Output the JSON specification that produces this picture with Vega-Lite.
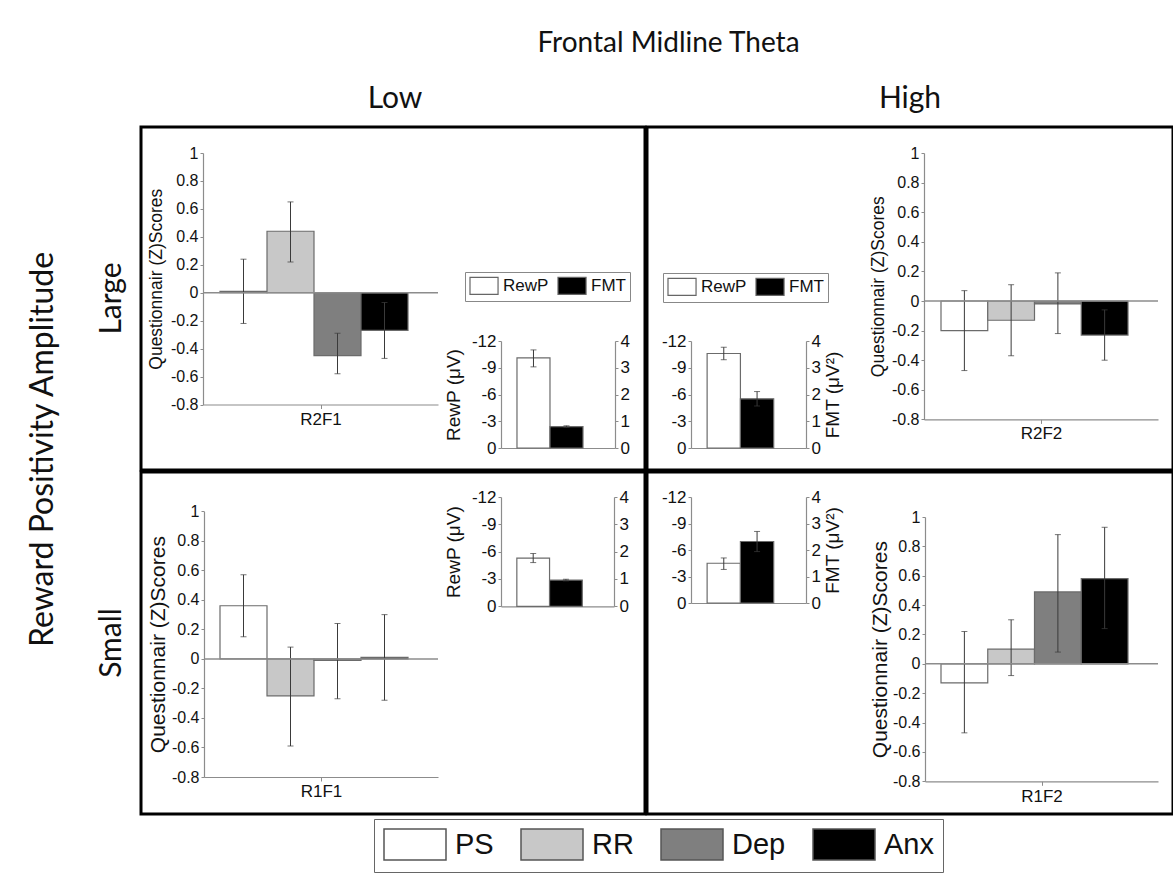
{
  "$schema": "https://vega.github.io/schema/vega-lite/v6.json",
  "padding": {"left": 26, "top": 29, "right": 2, "bottom": 2},
  "config": {
    "font": "Liberation Sans",
    "view": {"stroke": "black", "strokeWidth": 3},
    "axis": {"grid": false, "labelOverlap": false, "domainColor": "#8c8c8c", "tickColor": "#8c8c8c", "labelColor": "#111111", "domainWidth": 1.2, "labelFont": "Liberation Sans", "titleFont": "Liberation Sans", "titleFontWeight": "normal", "titleColor": "#111111"},
    "legend": {"labelFont": "Liberation Sans", "labelColor": "#111111"},
    "title": {"font": "Lato", "fontWeight": "normal", "color": "#111111"},
    "locale": {"number": {"decimal": ".", "thousands": ",", "grouping": [3], "currency": ["$", ""], "minus": "-"}}
  },
  "datasets": {
    "zdata": [
      {"panel": "R2F1", "measure": "PS", "z": 0.01, "lo": -0.22, "hi": 0.24},
      {"panel": "R2F1", "measure": "RR", "z": 0.44, "lo": 0.22, "hi": 0.65},
      {"panel": "R2F1", "measure": "Dep", "z": -0.45, "lo": -0.58, "hi": -0.29},
      {"panel": "R2F1", "measure": "Anx", "z": -0.27, "lo": -0.47, "hi": -0.07},
      {"panel": "R2F2", "measure": "PS", "z": -0.2, "lo": -0.47, "hi": 0.07},
      {"panel": "R2F2", "measure": "RR", "z": -0.13, "lo": -0.37, "hi": 0.11},
      {"panel": "R2F2", "measure": "Dep", "z": -0.02, "lo": -0.22, "hi": 0.19},
      {"panel": "R2F2", "measure": "Anx", "z": -0.23, "lo": -0.4, "hi": -0.06},
      {"panel": "R1F1", "measure": "PS", "z": 0.36, "lo": 0.15, "hi": 0.57},
      {"panel": "R1F1", "measure": "RR", "z": -0.25, "lo": -0.59, "hi": 0.08},
      {"panel": "R1F1", "measure": "Dep", "z": -0.01, "lo": -0.27, "hi": 0.24},
      {"panel": "R1F1", "measure": "Anx", "z": 0.01, "lo": -0.28, "hi": 0.3},
      {"panel": "R1F2", "measure": "PS", "z": -0.13, "lo": -0.47, "hi": 0.22},
      {"panel": "R1F2", "measure": "RR", "z": 0.1, "lo": -0.08, "hi": 0.3},
      {"panel": "R1F2", "measure": "Dep", "z": 0.49, "lo": 0.08, "hi": 0.88},
      {"panel": "R1F2", "measure": "Anx", "z": 0.58, "lo": 0.24, "hi": 0.93}
    ],
    "sdata": [
      {"panel": "R2F1", "var": "RewP", "v": -10.1, "lo": -11.0, "hi": -9.1},
      {"panel": "R2F1", "var": "FMT", "v": 0.8, "lo": 0.77, "hi": 0.83},
      {"panel": "R2F2", "var": "RewP", "v": -10.6, "lo": -11.3, "hi": -9.9},
      {"panel": "R2F2", "var": "FMT", "v": 1.84, "lo": 1.57, "hi": 2.11},
      {"panel": "R1F1", "var": "RewP", "v": -5.3, "lo": -5.8, "hi": -4.8},
      {"panel": "R1F1", "var": "FMT", "v": 0.96, "lo": 0.93, "hi": 0.99},
      {"panel": "R1F2", "var": "RewP", "v": -4.5, "lo": -5.1, "hi": -3.8},
      {"panel": "R1F2", "var": "FMT", "v": 2.32, "lo": 1.94, "hi": 2.7}
    ]
  },
  "title": {"text": "Frontal Midline Theta", "fontSize": 28, "anchor": "middle", "offset": 26, "dx": 68},
  "resolve": {"scale": {"fill": "independent"}},
  "vconcat": [
    {
      "title": {"text": "Reward Positivity Amplitude", "orient": "left", "fontSize": 32, "anchor": "middle", "offset": 36},
      "spacing": -3,
      "resolve": {"scale": {"fill": "independent"}},
      "hconcat": [
        {
          "title": {"text": "Low", "fontSize": 30, "anchor": "middle", "offset": 12, "dx": 24},
          "spacing": -3,
          "resolve": {"scale": {"fill": "independent"}},
          "vconcat": [
            {
              "width": 504, "height": 343,
              "title": {"text": "Large", "orient": "left", "fontSize": 30, "anchor": "middle", "offset": 14},
              "resolve": {"scale": {"x": "independent", "y": "independent"}},
              "layer": [
                {
                  "resolve": {"scale": {"x": "independent"}},
                  "layer": [
                    {
                      "data": {"name": "zdata"},
                      "transform": [{"filter": "datum.panel == 'R2F1'"}],
                      "mark": {"type": "bar", "stroke": "#6b6b6b", "strokeWidth": 1.2},
                      "encoding": {
                        "x": {"field": "measure", "type": "nominal", "sort": null, "scale": {"domain": ["PS", "RR", "Dep", "Anx"], "range": [79, 267], "paddingInner": 0, "paddingOuter": 0}, "axis": null},
                        "y": {"field": "z", "type": "quantitative", "title": "Questionnair (Z)Scores", "scale": {"domain": [-0.8, 1], "range": [277.5, 26], "nice": false}, "axis": {"orient": "left", "offset": -62, "values": [-0.8, -0.6, -0.4, -0.2, 0, 0.2, 0.4, 0.6, 0.8, 1], "tickCount": 20, "format": ".1~f", "labelFontSize": 16, "labelPadding": 2, "tickSize": 3, "titleFontSize": 17.5, "titleAngle": 270, "titleX": -47, "titleBaseline": "middle", "titleAlign": "center"}},
                        "color": {"field": "measure", "type": "nominal", "sort": null, "scale": {"domain": ["PS", "RR", "Dep", "Anx"], "range": ["#ffffff", "#c8c8c8", "#7f7f7f", "#000000"]}, "legend": {"orient": "none", "legendX": 233, "legendY": 692, "direction": "horizontal", "title": null, "symbolType": "M-1,-1H3V1H-1Z", "symbolSize": 961, "symbolStrokeColor": "#555555", "symbolStrokeWidth": 1.5, "labelFontSize": 29, "labelOffset": 39, "columnPadding": 24, "padding": 9, "strokeColor": "#666666", "fillColor": "#ffffff"}}
                      }
                    },
                    {
                      "data": {"name": "zdata"},
                      "transform": [{"filter": "datum.panel == 'R2F1'"}],
                      "mark": {"type": "errorbar", "color": "#3a3a3a", "thickness": 1, "ticks": {"size": 6, "thickness": 1}},
                      "encoding": {
                        "x": {"field": "measure", "type": "nominal", "sort": null, "scale": {"domain": ["PS", "RR", "Dep", "Anx"], "range": [79, 267], "paddingInner": 0, "paddingOuter": 0}, "axis": null},
                        "y": {"field": "lo", "type": "quantitative", "title": "Questionnair (Z)Scores"},
                        "y2": {"field": "hi"}
                      }
                    },
                    {
                      "data": {"values": [{"panel": "R2F1"}]},
                      "mark": {"type": "rule", "color": "#8c8c8c", "strokeWidth": 1.5},
                      "encoding": {
                        "x": {"datum": 0, "type": "quantitative", "scale": {"domain": [0, 1], "range": [62, 297], "nice": false, "zero": false}, "axis": {"orient": "bottom", "offset": -65.5, "values": [0.5], "labels": false, "tickSize": 4, "title": "R2F1", "titleFontSize": 17, "titleY": 15, "titleBaseline": "middle"}},
                        "x2": {"datum": 1},
                        "y": {"datum": 0, "type": "quantitative", "title": "Questionnair (Z)Scores"}
                      }
                    }
                  ]
                },
                {
                  "layer": [
                    {
                      "data": {"name": "sdata"},
                      "transform": [{"filter": "datum.panel == 'R2F1' && datum.var == 'RewP'"}],
                      "mark": {"type": "bar", "stroke": "#6b6b6b", "strokeWidth": 1.2},
                      "encoding": {
                        "x": {"field": "var", "type": "nominal", "sort": null, "scale": {"domain": ["RewP", "FMT"], "range": [360, 474], "paddingInner": 0, "paddingOuter": 0.727, "align": 0.333}, "axis": {"orient": "bottom", "offset": -22, "labels": false, "ticks": false, "title": null}},
                        "y": {"field": "v", "type": "quantitative", "title": "RewP (μV)", "scale": {"domain": [-12, 0], "reverse": true, "range": [321, 214], "nice": false}, "axis": {"orient": "left", "offset": -360, "values": [0, -3, -6, -9, -12], "tickCount": 20, "format": "d", "labelFontSize": 17, "labelPadding": 2, "tickSize": 3, "titleFontSize": 19, "titleAngle": 270, "titleX": -48, "titleBaseline": "middle", "titleAlign": "center"}},
                        "fill": {"field": "var", "type": "nominal", "sort": null, "scale": {"domain": ["RewP", "FMT"], "range": ["#ffffff", "#000000"]}, "legend": {"orient": "none", "legendX": 324, "legendY": 145, "direction": "horizontal", "title": null, "symbolType": "M-1,-1H2.3V1H-1Z", "symbolSize": 289, "symbolStrokeColor": "#666666", "symbolStrokeWidth": 1.2, "labelFontSize": 17, "labelOffset": 15, "columnPadding": 6, "padding": 4, "strokeColor": "#888888", "fillColor": "#ffffff"}}
                      }
                    },
                    {
                      "data": {"name": "sdata"},
                      "transform": [{"filter": "datum.panel == 'R2F1' && datum.var == 'RewP'"}],
                      "mark": {"type": "errorbar", "color": "#3a3a3a", "thickness": 1, "ticks": {"size": 6, "thickness": 1}},
                      "encoding": {
                        "x": {"field": "var", "type": "nominal", "sort": null},
                        "y": {"field": "lo", "type": "quantitative", "title": "RewP (μV)"},
                        "y2": {"field": "hi"}
                      }
                    }
                  ]
                },
                {
                  "layer": [
                    {
                      "data": {"name": "sdata"},
                      "transform": [{"filter": "datum.panel == 'R2F1' && datum.var == 'FMT'"}],
                      "mark": {"type": "bar", "stroke": "#6b6b6b", "strokeWidth": 1.2},
                      "encoding": {
                        "x": {"field": "var", "type": "nominal", "sort": null, "scale": {"domain": ["RewP", "FMT"], "range": [360, 474], "paddingInner": 0, "paddingOuter": 0.727, "align": 0.333}, "axis": null},
                        "y": {"field": "v", "type": "quantitative", "title": null, "scale": {"domain": [0, 4], "range": [321, 214], "nice": false}, "axis": {"orient": "right", "offset": -30, "values": [0, 1, 2, 3, 4], "tickCount": 20, "format": "d", "labelFontSize": 17, "labelPadding": 2, "tickSize": 3, "title": null}},
                        "fill": {"field": "var", "type": "nominal", "sort": null, "scale": {"domain": ["RewP", "FMT"], "range": ["#ffffff", "#000000"]}, "legend": {"orient": "none", "legendX": 324, "legendY": 145, "direction": "horizontal", "title": null, "symbolType": "M-1,-1H2.3V1H-1Z", "symbolSize": 289, "symbolStrokeColor": "#666666", "symbolStrokeWidth": 1.2, "labelFontSize": 17, "labelOffset": 15, "columnPadding": 6, "padding": 4, "strokeColor": "#888888", "fillColor": "#ffffff"}}
                      }
                    },
                    {
                      "data": {"name": "sdata"},
                      "transform": [{"filter": "datum.panel == 'R2F1' && datum.var == 'FMT'"}],
                      "mark": {"type": "errorbar", "color": "#3a3a3a", "thickness": 1, "ticks": {"size": 6, "thickness": 1}},
                      "encoding": {
                        "x": {"field": "var", "type": "nominal", "sort": null},
                        "y": {"field": "lo", "type": "quantitative", "title": null},
                        "y2": {"field": "hi"}
                      }
                    }
                  ]
                }
              ]
            },
            {
              "width": 504, "height": 342,
              "title": {"text": "Small", "orient": "left", "fontSize": 30, "anchor": "middle", "offset": 14},
              "resolve": {"scale": {"x": "independent", "y": "independent"}},
              "layer": [
                {
                  "resolve": {"scale": {"x": "independent"}},
                  "layer": [
                    {
                      "data": {"name": "zdata"},
                      "transform": [{"filter": "datum.panel == 'R1F1'"}],
                      "mark": {"type": "bar", "stroke": "#6b6b6b", "strokeWidth": 1.2},
                      "encoding": {
                        "x": {"field": "measure", "type": "nominal", "sort": null, "scale": {"domain": ["PS", "RR", "Dep", "Anx"], "range": [79, 267], "paddingInner": 0, "paddingOuter": 0}, "axis": null},
                        "y": {"field": "z", "type": "quantitative", "title": "Questionnair (Z)Scores", "scale": {"domain": [-0.8, 1], "range": [305, 39.3], "nice": false}, "axis": {"orient": "left", "offset": -63, "values": [-0.8, -0.6, -0.4, -0.2, 0, 0.2, 0.4, 0.6, 0.8, 1], "tickCount": 20, "format": ".1~f", "labelFontSize": 16, "labelPadding": 2, "tickSize": 3, "titleFontSize": 21, "titleAngle": 270, "titleX": -46, "titleBaseline": "middle", "titleAlign": "center"}},
                        "color": {"field": "measure", "type": "nominal", "sort": null, "scale": {"domain": ["PS", "RR", "Dep", "Anx"], "range": ["#ffffff", "#c8c8c8", "#7f7f7f", "#000000"]}, "legend": {"orient": "none", "legendX": 233, "legendY": 692, "direction": "horizontal", "title": null, "symbolType": "M-1,-1H3V1H-1Z", "symbolSize": 961, "symbolStrokeColor": "#555555", "symbolStrokeWidth": 1.5, "labelFontSize": 29, "labelOffset": 39, "columnPadding": 24, "padding": 9, "strokeColor": "#666666", "fillColor": "#ffffff"}}
                      }
                    },
                    {
                      "data": {"name": "zdata"},
                      "transform": [{"filter": "datum.panel == 'R1F1'"}],
                      "mark": {"type": "errorbar", "color": "#3a3a3a", "thickness": 1, "ticks": {"size": 6, "thickness": 1}},
                      "encoding": {
                        "x": {"field": "measure", "type": "nominal", "sort": null, "scale": {"domain": ["PS", "RR", "Dep", "Anx"], "range": [79, 267], "paddingInner": 0, "paddingOuter": 0}, "axis": null},
                        "y": {"field": "lo", "type": "quantitative", "title": "Questionnair (Z)Scores"},
                        "y2": {"field": "hi"}
                      }
                    },
                    {
                      "data": {"values": [{"panel": "R1F1"}]},
                      "mark": {"type": "rule", "color": "#8c8c8c", "strokeWidth": 1.5},
                      "encoding": {
                        "x": {"datum": 0, "type": "quantitative", "scale": {"domain": [0, 1], "range": [63, 297], "nice": false, "zero": false}, "axis": {"orient": "bottom", "offset": -37, "values": [0.5], "labels": false, "tickSize": 4, "title": "R1F1", "titleFontSize": 17, "titleY": 14, "titleBaseline": "middle"}},
                        "x2": {"datum": 1},
                        "y": {"datum": 0, "type": "quantitative", "title": "Questionnair (Z)Scores"}
                      }
                    }
                  ]
                },
                {
                  "layer": [
                    {
                      "data": {"name": "sdata"},
                      "transform": [{"filter": "datum.panel == 'R1F1' && datum.var == 'RewP'"}],
                      "mark": {"type": "bar", "stroke": "#6b6b6b", "strokeWidth": 1.2},
                      "encoding": {
                        "x": {"field": "var", "type": "nominal", "sort": null, "scale": {"domain": ["RewP", "FMT"], "range": [360, 473], "paddingInner": 0, "paddingOuter": 0.727, "align": 0.333}, "axis": {"orient": "bottom", "offset": -207.7, "labels": false, "ticks": false, "title": null}},
                        "y": {"field": "v", "type": "quantitative", "title": "RewP (μV)", "scale": {"domain": [-12, 0], "reverse": true, "range": [134.3, 25], "nice": false}, "axis": {"orient": "left", "offset": -360, "values": [0, -3, -6, -9, -12], "tickCount": 20, "format": "d", "labelFontSize": 17, "labelPadding": 2, "tickSize": 3, "titleFontSize": 19, "titleAngle": 270, "titleX": -48, "titleBaseline": "middle", "titleAlign": "center"}},
                        "fill": {"field": "var", "type": "nominal", "sort": null, "scale": {"domain": ["RewP", "FMT"], "range": ["#ffffff", "#000000"]}, "legend": null}
                      }
                    },
                    {
                      "data": {"name": "sdata"},
                      "transform": [{"filter": "datum.panel == 'R1F1' && datum.var == 'RewP'"}],
                      "mark": {"type": "errorbar", "color": "#3a3a3a", "thickness": 1, "ticks": {"size": 6, "thickness": 1}},
                      "encoding": {
                        "x": {"field": "var", "type": "nominal", "sort": null},
                        "y": {"field": "lo", "type": "quantitative", "title": "RewP (μV)"},
                        "y2": {"field": "hi"}
                      }
                    }
                  ]
                },
                {
                  "layer": [
                    {
                      "data": {"name": "sdata"},
                      "transform": [{"filter": "datum.panel == 'R1F1' && datum.var == 'FMT'"}],
                      "mark": {"type": "bar", "stroke": "#6b6b6b", "strokeWidth": 1.2},
                      "encoding": {
                        "x": {"field": "var", "type": "nominal", "sort": null, "scale": {"domain": ["RewP", "FMT"], "range": [360, 473], "paddingInner": 0, "paddingOuter": 0.727, "align": 0.333}, "axis": null},
                        "y": {"field": "v", "type": "quantitative", "title": null, "scale": {"domain": [0, 4], "range": [134.3, 25], "nice": false}, "axis": {"orient": "right", "offset": -31, "values": [0, 1, 2, 3, 4], "tickCount": 20, "format": "d", "labelFontSize": 17, "labelPadding": 2, "tickSize": 3, "title": null}},
                        "fill": {"field": "var", "type": "nominal", "sort": null, "scale": {"domain": ["RewP", "FMT"], "range": ["#ffffff", "#000000"]}, "legend": null}
                      }
                    },
                    {
                      "data": {"name": "sdata"},
                      "transform": [{"filter": "datum.panel == 'R1F1' && datum.var == 'FMT'"}],
                      "mark": {"type": "errorbar", "color": "#3a3a3a", "thickness": 1, "ticks": {"size": 6, "thickness": 1}},
                      "encoding": {
                        "x": {"field": "var", "type": "nominal", "sort": null},
                        "y": {"field": "lo", "type": "quantitative", "title": null},
                        "y2": {"field": "hi"}
                      }
                    }
                  ]
                }
              ]
            }
          ]
        },
        {
          "title": {"text": "High", "fontSize": 30, "anchor": "middle", "offset": 12},
          "spacing": -3,
          "resolve": {"scale": {"fill": "independent"}},
          "vconcat": [
            {
              "width": 526, "height": 343,
              "resolve": {"scale": {"x": "independent", "y": "independent"}},
              "layer": [
                {
                  "resolve": {"scale": {"x": "independent"}},
                  "layer": [
                    {
                      "data": {"name": "zdata"},
                      "transform": [{"filter": "datum.panel == 'R2F2'"}],
                      "mark": {"type": "bar", "stroke": "#6b6b6b", "strokeWidth": 1.2},
                      "encoding": {
                        "x": {"field": "measure", "type": "nominal", "sort": null, "scale": {"domain": ["PS", "RR", "Dep", "Anx"], "range": [294, 481], "paddingInner": 0, "paddingOuter": 0}, "axis": null},
                        "y": {"field": "z", "type": "quantitative", "title": "Questionnair (Z)Scores", "scale": {"domain": [-0.8, 1], "range": [292.4, 26], "nice": false}, "axis": {"orient": "left", "offset": -277, "values": [-0.8, -0.6, -0.4, -0.2, 0, 0.2, 0.4, 0.6, 0.8, 1], "tickCount": 20, "format": ".1~f", "labelFontSize": 16, "labelPadding": 2, "tickSize": 3, "titleFontSize": 17.5, "titleAngle": 270, "titleX": -46, "titleBaseline": "middle", "titleAlign": "center"}},
                        "color": {"field": "measure", "type": "nominal", "sort": null, "scale": {"domain": ["PS", "RR", "Dep", "Anx"], "range": ["#ffffff", "#c8c8c8", "#7f7f7f", "#000000"]}, "legend": {"orient": "none", "legendX": 233, "legendY": 692, "direction": "horizontal", "title": null, "symbolType": "M-1,-1H3V1H-1Z", "symbolSize": 961, "symbolStrokeColor": "#555555", "symbolStrokeWidth": 1.5, "labelFontSize": 29, "labelOffset": 39, "columnPadding": 24, "padding": 9, "strokeColor": "#666666", "fillColor": "#ffffff"}}
                      }
                    },
                    {
                      "data": {"name": "zdata"},
                      "transform": [{"filter": "datum.panel == 'R2F2'"}],
                      "mark": {"type": "errorbar", "color": "#3a3a3a", "thickness": 1, "ticks": {"size": 6, "thickness": 1}},
                      "encoding": {
                        "x": {"field": "measure", "type": "nominal", "sort": null, "scale": {"domain": ["PS", "RR", "Dep", "Anx"], "range": [294, 481], "paddingInner": 0, "paddingOuter": 0}, "axis": null},
                        "y": {"field": "lo", "type": "quantitative", "title": "Questionnair (Z)Scores"},
                        "y2": {"field": "hi"}
                      }
                    },
                    {
                      "data": {"values": [{"panel": "R2F2"}]},
                      "mark": {"type": "rule", "color": "#8c8c8c", "strokeWidth": 1.5},
                      "encoding": {
                        "x": {"datum": 0, "type": "quantitative", "scale": {"domain": [0, 1], "range": [277, 511], "nice": false, "zero": false}, "axis": {"orient": "bottom", "offset": -50.6, "values": [0.5], "labels": false, "tickSize": 4, "title": "R2F2", "titleFontSize": 17, "titleY": 14, "titleBaseline": "middle"}},
                        "x2": {"datum": 1},
                        "y": {"datum": 0, "type": "quantitative", "title": "Questionnair (Z)Scores"}
                      }
                    }
                  ]
                },
                {
                  "layer": [
                    {
                      "data": {"name": "sdata"},
                      "transform": [{"filter": "datum.panel == 'R2F2' && datum.var == 'RewP'"}],
                      "mark": {"type": "bar", "stroke": "#6b6b6b", "strokeWidth": 1.2},
                      "encoding": {
                        "x": {"field": "var", "type": "nominal", "sort": null, "scale": {"domain": ["RewP", "FMT"], "range": [44, 159], "paddingInner": 0, "paddingOuter": 0.727, "align": 0.333}, "axis": {"orient": "bottom", "offset": -22, "labels": false, "ticks": false, "title": null}},
                        "y": {"field": "v", "type": "quantitative", "title": null, "scale": {"domain": [-12, 0], "reverse": true, "range": [321, 214], "nice": false}, "axis": {"orient": "left", "offset": -44, "values": [0, -3, -6, -9, -12], "tickCount": 20, "format": "d", "labelFontSize": 17, "labelPadding": 2, "tickSize": 3, "title": null}},
                        "fill": {"field": "var", "type": "nominal", "sort": null, "scale": {"domain": ["RewP", "FMT"], "range": ["#ffffff", "#000000"]}, "legend": {"orient": "none", "legendX": 16, "legendY": 146, "direction": "horizontal", "title": null, "symbolType": "M-1,-1H2.3V1H-1Z", "symbolSize": 289, "symbolStrokeColor": "#666666", "symbolStrokeWidth": 1.2, "labelFontSize": 17, "labelOffset": 15, "columnPadding": 6, "padding": 4, "strokeColor": "#888888", "fillColor": "#ffffff"}}
                      }
                    },
                    {
                      "data": {"name": "sdata"},
                      "transform": [{"filter": "datum.panel == 'R2F2' && datum.var == 'RewP'"}],
                      "mark": {"type": "errorbar", "color": "#3a3a3a", "thickness": 1, "ticks": {"size": 6, "thickness": 1}},
                      "encoding": {
                        "x": {"field": "var", "type": "nominal", "sort": null},
                        "y": {"field": "lo", "type": "quantitative", "title": null},
                        "y2": {"field": "hi"}
                      }
                    }
                  ]
                },
                {
                  "layer": [
                    {
                      "data": {"name": "sdata"},
                      "transform": [{"filter": "datum.panel == 'R2F2' && datum.var == 'FMT'"}],
                      "mark": {"type": "bar", "stroke": "#6b6b6b", "strokeWidth": 1.2},
                      "encoding": {
                        "x": {"field": "var", "type": "nominal", "sort": null, "scale": {"domain": ["RewP", "FMT"], "range": [44, 159], "paddingInner": 0, "paddingOuter": 0.727, "align": 0.333}, "axis": null},
                        "y": {"field": "v", "type": "quantitative", "title": "FMT (μV²)", "scale": {"domain": [0, 4], "range": [321, 214], "nice": false}, "axis": {"orient": "right", "offset": -367, "values": [0, 1, 2, 3, 4], "tickCount": 20, "format": "d", "labelFontSize": 17, "labelPadding": 2, "tickSize": 3, "titleFontSize": 19, "titleAngle": 270, "titleX": 26, "titleBaseline": "middle", "titleAlign": "center"}},
                        "fill": {"field": "var", "type": "nominal", "sort": null, "scale": {"domain": ["RewP", "FMT"], "range": ["#ffffff", "#000000"]}, "legend": {"orient": "none", "legendX": 16, "legendY": 146, "direction": "horizontal", "title": null, "symbolType": "M-1,-1H2.3V1H-1Z", "symbolSize": 289, "symbolStrokeColor": "#666666", "symbolStrokeWidth": 1.2, "labelFontSize": 17, "labelOffset": 15, "columnPadding": 6, "padding": 4, "strokeColor": "#888888", "fillColor": "#ffffff"}}
                      }
                    },
                    {
                      "data": {"name": "sdata"},
                      "transform": [{"filter": "datum.panel == 'R2F2' && datum.var == 'FMT'"}],
                      "mark": {"type": "errorbar", "color": "#3a3a3a", "thickness": 1, "ticks": {"size": 6, "thickness": 1}},
                      "encoding": {
                        "x": {"field": "var", "type": "nominal", "sort": null},
                        "y": {"field": "lo", "type": "quantitative", "title": "FMT (μV²)"},
                        "y2": {"field": "hi"}
                      }
                    }
                  ]
                }
              ]
            },
            {
              "width": 526, "height": 342,
              "resolve": {"scale": {"x": "independent", "y": "independent"}},
              "layer": [
                {
                  "resolve": {"scale": {"x": "independent"}},
                  "layer": [
                    {
                      "data": {"name": "zdata"},
                      "transform": [{"filter": "datum.panel == 'R1F2'"}],
                      "mark": {"type": "bar", "stroke": "#6b6b6b", "strokeWidth": 1.2},
                      "encoding": {
                        "x": {"field": "measure", "type": "nominal", "sort": null, "scale": {"domain": ["PS", "RR", "Dep", "Anx"], "range": [294, 481], "paddingInner": 0, "paddingOuter": 0}, "axis": null},
                        "y": {"field": "z", "type": "quantitative", "title": "Questionnair (Z)Scores", "scale": {"domain": [-0.8, 1], "range": [309.3, 45], "nice": false}, "axis": {"orient": "left", "offset": -278, "values": [-0.8, -0.6, -0.4, -0.2, 0, 0.2, 0.4, 0.6, 0.8, 1], "tickCount": 20, "format": ".1~f", "labelFontSize": 16, "labelPadding": 2, "tickSize": 3, "titleFontSize": 21, "titleAngle": 270, "titleX": -45, "titleBaseline": "middle", "titleAlign": "center"}},
                        "color": {"field": "measure", "type": "nominal", "sort": null, "scale": {"domain": ["PS", "RR", "Dep", "Anx"], "range": ["#ffffff", "#c8c8c8", "#7f7f7f", "#000000"]}, "legend": {"orient": "none", "legendX": 233, "legendY": 692, "direction": "horizontal", "title": null, "symbolType": "M-1,-1H3V1H-1Z", "symbolSize": 961, "symbolStrokeColor": "#555555", "symbolStrokeWidth": 1.5, "labelFontSize": 29, "labelOffset": 39, "columnPadding": 24, "padding": 9, "strokeColor": "#666666", "fillColor": "#ffffff"}}
                      }
                    },
                    {
                      "data": {"name": "zdata"},
                      "transform": [{"filter": "datum.panel == 'R1F2'"}],
                      "mark": {"type": "errorbar", "color": "#3a3a3a", "thickness": 1, "ticks": {"size": 6, "thickness": 1}},
                      "encoding": {
                        "x": {"field": "measure", "type": "nominal", "sort": null, "scale": {"domain": ["PS", "RR", "Dep", "Anx"], "range": [294, 481], "paddingInner": 0, "paddingOuter": 0}, "axis": null},
                        "y": {"field": "lo", "type": "quantitative", "title": "Questionnair (Z)Scores"},
                        "y2": {"field": "hi"}
                      }
                    },
                    {
                      "data": {"values": [{"panel": "R1F2"}]},
                      "mark": {"type": "rule", "color": "#8c8c8c", "strokeWidth": 1.5},
                      "encoding": {
                        "x": {"datum": 0, "type": "quantitative", "scale": {"domain": [0, 1], "range": [278, 511], "nice": false, "zero": false}, "axis": {"orient": "bottom", "offset": -32.7, "values": [0.5], "labels": false, "tickSize": 4, "title": "R1F2", "titleFontSize": 17, "titleY": 15, "titleBaseline": "middle"}},
                        "x2": {"datum": 1},
                        "y": {"datum": 0, "type": "quantitative", "title": "Questionnair (Z)Scores"}
                      }
                    }
                  ]
                },
                {
                  "layer": [
                    {
                      "data": {"name": "sdata"},
                      "transform": [{"filter": "datum.panel == 'R1F2' && datum.var == 'RewP'"}],
                      "mark": {"type": "bar", "stroke": "#6b6b6b", "strokeWidth": 1.2},
                      "encoding": {
                        "x": {"field": "var", "type": "nominal", "sort": null, "scale": {"domain": ["RewP", "FMT"], "range": [44, 159], "paddingInner": 0, "paddingOuter": 0.727, "align": 0.333}, "axis": {"orient": "bottom", "offset": -211, "labels": false, "ticks": false, "title": null}},
                        "y": {"field": "v", "type": "quantitative", "title": null, "scale": {"domain": [-12, 0], "reverse": true, "range": [131, 25], "nice": false}, "axis": {"orient": "left", "offset": -44, "values": [0, -3, -6, -9, -12], "tickCount": 20, "format": "d", "labelFontSize": 17, "labelPadding": 2, "tickSize": 3, "title": null}},
                        "fill": {"field": "var", "type": "nominal", "sort": null, "scale": {"domain": ["RewP", "FMT"], "range": ["#ffffff", "#000000"]}, "legend": null}
                      }
                    },
                    {
                      "data": {"name": "sdata"},
                      "transform": [{"filter": "datum.panel == 'R1F2' && datum.var == 'RewP'"}],
                      "mark": {"type": "errorbar", "color": "#3a3a3a", "thickness": 1, "ticks": {"size": 6, "thickness": 1}},
                      "encoding": {
                        "x": {"field": "var", "type": "nominal", "sort": null},
                        "y": {"field": "lo", "type": "quantitative", "title": null},
                        "y2": {"field": "hi"}
                      }
                    }
                  ]
                },
                {
                  "layer": [
                    {
                      "data": {"name": "sdata"},
                      "transform": [{"filter": "datum.panel == 'R1F2' && datum.var == 'FMT'"}],
                      "mark": {"type": "bar", "stroke": "#6b6b6b", "strokeWidth": 1.2},
                      "encoding": {
                        "x": {"field": "var", "type": "nominal", "sort": null, "scale": {"domain": ["RewP", "FMT"], "range": [44, 159], "paddingInner": 0, "paddingOuter": 0.727, "align": 0.333}, "axis": null},
                        "y": {"field": "v", "type": "quantitative", "title": "FMT (μV²)", "scale": {"domain": [0, 4], "range": [131, 25], "nice": false}, "axis": {"orient": "right", "offset": -367, "values": [0, 1, 2, 3, 4], "tickCount": 20, "format": "d", "labelFontSize": 17, "labelPadding": 2, "tickSize": 3, "titleFontSize": 19, "titleAngle": 270, "titleX": 26, "titleBaseline": "middle", "titleAlign": "center"}},
                        "fill": {"field": "var", "type": "nominal", "sort": null, "scale": {"domain": ["RewP", "FMT"], "range": ["#ffffff", "#000000"]}, "legend": null}
                      }
                    },
                    {
                      "data": {"name": "sdata"},
                      "transform": [{"filter": "datum.panel == 'R1F2' && datum.var == 'FMT'"}],
                      "mark": {"type": "errorbar", "color": "#3a3a3a", "thickness": 1, "ticks": {"size": 6, "thickness": 1}},
                      "encoding": {
                        "x": {"field": "var", "type": "nominal", "sort": null},
                        "y": {"field": "lo", "type": "quantitative", "title": "FMT (μV²)"},
                        "y2": {"field": "hi"}
                      }
                    }
                  ]
                }
              ]
            }
          ]
        }
      ]
    }
  ]
}
